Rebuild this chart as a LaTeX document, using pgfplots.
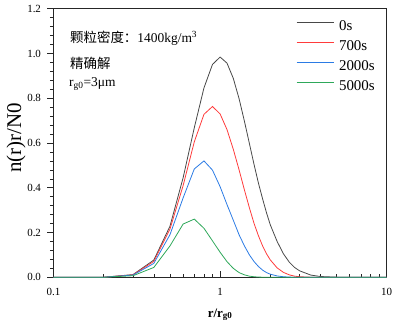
\documentclass[border=0pt]{standalone}
\usepackage{pgfplots}
\pgfplotsset{compat=1.18}
\usepackage{fontspec}
\setmainfont{Liberation Serif}
\newfontfamily\cjk{Noto Sans CJK SC}
\definecolor{c0}{HTML}{484848}
\definecolor{c1}{HTML}{FF3B3B}
\definecolor{c2}{HTML}{2B7BE4}
\definecolor{c3}{HTML}{2EA85A}
\begin{document}
\begin{tikzpicture}
\path[use as bounding box] (-53.5bp,-47.7bp) rectangle (344.5bp,277.3bp);
\begin{axis}[
  scale only axis, width=333.2bp, height=268.6bp,
  xmode=log, xmin=0.1, xmax=10, ymin=0, ymax=1.2,
  xtick={0.1,1,10}, xticklabels={0.1,1,10},
  minor xtick={0.2,0.3,0.4,0.5,0.6,0.7,0.8,0.9,2,3,4,5,6,7,8,9},
  ytick={0,0.2,0.4,0.6,0.8,1.0,1.2}, minor y tick num=4,
  xtick pos=bottom, ytick pos=left,
  tick align=inside, major tick length=6bp, minor tick length=3.5bp,
  every major y tick/.append style={xshift=-6bp},
  every minor y tick/.append style={xshift=-3.5bp},
  axis line style={line width=0.9pt, black!85},
  every tick/.style={black!85, line width=0.6pt},
  /pgf/number format/assume math mode=true,
  ticklabel style={font=\fontsize{11}{13}\selectfont},
  yticklabel style={/pgf/number format/fixed,/pgf/number format/precision=1,/pgf/number format/fixed zerofill, xshift=-9bp},
  xticklabel style={yshift=-7bp},
  xlabel={\bfseries r/r\textsubscript{g0}},
  xlabel style={at={(axis description cs:0.5,-0.148)}, anchor=base, font=\fontsize{13}{15}\selectfont},
  ylabel={n(r)r/N0},
  ylabel style={at={(axis description cs:-0.112,0.52)}, anchor=center, rotate=0, font=\fontsize{21}{23}\selectfont},
  legend style={at={(rel axis cs:0.719,0.965)}, anchor=north west, draw=none, fill=none,
    font=\fontsize{15}{17}\selectfont, row sep=7bp,
    nodes={inner sep=0pt, text height=10bp, text depth=3bp},
    /tikz/every odd column/.append style={column sep=5bp}},
  legend image code/.code={\draw[#1] (0bp,4.6bp) -- (37bp,4.6bp);},
  legend cell align=left,
  every axis plot/.append style={line width=0.8pt},
  clip=false,
]
\addplot[c0] coordinates {
(0.1,0) (0.2,0.0004) (0.3,0.012) (0.4,0.077) (0.5,0.228) (0.6,0.445) (0.7,0.668) (0.8,0.846) (0.9,0.951) (1.0,0.984)
(1.1,0.957) (1.2,0.889) (1.3,0.798) (1.4,0.697) (1.5,0.597) (1.6,0.503) (1.7,0.42) (1.8,0.35) (1.9,0.288) (2.0,0.235)
(2.2,0.16) (2.4,0.105) (2.6,0.068) (2.8,0.044) (3.0,0.029) (3.5,0.01) (4,0.0035) (5,0.0005) (6,0) (7,0) (8,0) (9,0) (10,0)};
\addlegendentry{0s}
\addplot[c1] coordinates {
(0.1,0) (0.2,0.0004) (0.3,0.011) (0.4,0.071) (0.5,0.215) (0.6,0.41) (0.7,0.605) (0.8,0.728) (0.9,0.763) (1.0,0.73)
(1.1,0.66) (1.2,0.572) (1.3,0.48) (1.4,0.39) (1.5,0.31) (1.6,0.24) (1.7,0.185) (1.8,0.14) (1.9,0.105) (2.0,0.078)
(2.2,0.042) (2.4,0.022) (2.6,0.011) (2.8,0.005) (3.0,0.0025) (3.5,0.0005) (4,0) (5,0) (6,0) (7,0) (8,0) (9,0) (10,0)};
\addlegendentry{700s}
\addplot[c2] coordinates {
(0.1,0) (0.2,0.0003) (0.3,0.01) (0.4,0.062) (0.5,0.19) (0.6,0.355) (0.7,0.484) (0.8,0.52) (0.9,0.479) (1.0,0.405)
(1.1,0.325) (1.2,0.255) (1.3,0.19) (1.4,0.14) (1.5,0.1) (1.6,0.07) (1.7,0.048) (1.8,0.032) (1.9,0.021) (2.0,0.014)
(2.2,0.006) (2.4,0.0025) (2.6,0.001) (2.8,0) (3.0,0) (4,0) (5,0) (6,0) (7,0) (8,0) (9,0) (10,0)};
\addlegendentry{2000s}
\addplot[c3] coordinates {
(0.1,0) (0.2,0.0002) (0.3,0.007) (0.4,0.044) (0.5,0.14) (0.6,0.238) (0.7,0.26) (0.8,0.219) (0.9,0.163) (1.0,0.112)
(1.1,0.07) (1.2,0.04) (1.3,0.021) (1.4,0.011) (1.5,0.005) (1.6,0.0025) (1.7,0.001) (1.8,0.0005) (2.0,0) (3,0) (4,0) (5,0) (6,0) (7,0) (8,0) (9,0) (10,0)};
\addlegendentry{5000s}
\node[anchor=base west, font=\fontsize{13.5}{15}\selectfont, inner sep=0pt] at (rel axis cs:0.0495,0.875) {{\cjk 颗粒密度：}1400kg/m\textsuperscript{3}};
\node[anchor=base west, font=\fontsize{13.5}{15}\selectfont, inner sep=0pt] at (rel axis cs:0.0495,0.777) {\cjk 精确解};
\node[anchor=base west, font=\fontsize{13.5}{15}\selectfont, inner sep=0pt] at (rel axis cs:0.0465,0.712) {r\textsubscript{g0}=3μm};
\end{axis}
\end{tikzpicture}
\end{document}
